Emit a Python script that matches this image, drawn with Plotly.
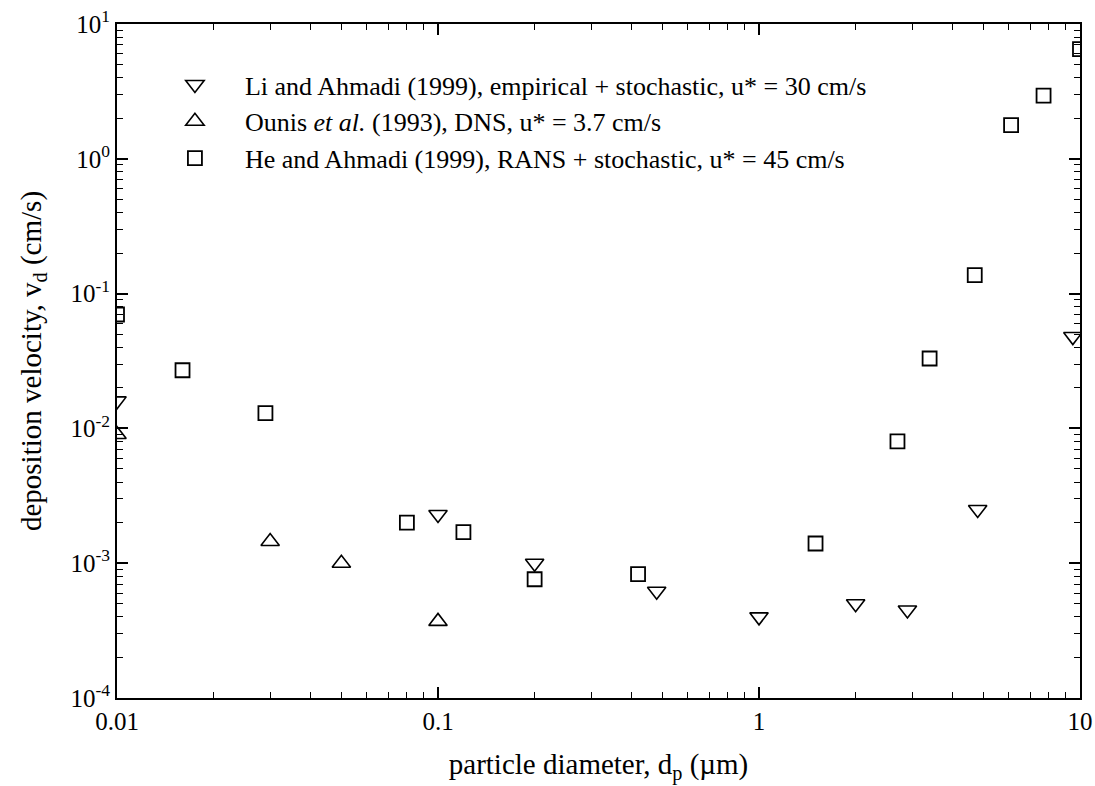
import plotly.graph_objects as go

# Li and Ahmadi (1999)
li_x = [0.01, 0.1, 0.2, 0.48, 1.0, 2.0, 2.9, 4.8, 9.5]
li_y = [0.016, 0.0023, 0.001, 0.00062, 0.0004, 0.0005, 0.00045, 0.0025, 0.048]
# Ounis et al. (1993)
ou_x = [0.01, 0.03, 0.05, 0.1]
ou_y = [0.009, 0.00145, 0.001, 0.00037]
# He and Ahmadi (1999)
he_x = [0.01, 0.016, 0.029, 0.08, 0.12, 0.2, 0.42, 1.5, 2.7, 3.4, 4.7, 6.1, 7.7, 10]
he_y = [0.07, 0.027, 0.013, 0.002, 0.0017, 0.00076, 0.00083, 0.0014, 0.008, 0.033, 0.137, 1.78, 2.94, 6.5]

x_tickvals = [0.01, 0.1, 1, 10]
x_ticktext = ["0.01", "0.1", "1", "10"]
y_tickvals = [1e-4, 1e-3, 1e-2, 1e-1, 1, 10]
y_ticktext = ["10<sup>-4</sup>", "10<sup>-3</sup>", "10<sup>-2</sup>", "10<sup>-1</sup>", "10<sup>0</sup>", "10<sup>1</sup>"]

x_minor = [m * d for d in [0.01, 0.1, 1] for m in range(2, 10)]
y_minor = [m * d for d in [1e-4, 1e-3, 1e-2, 1e-1, 1] for m in range(2, 10)]

FONT = "Liberation Serif, Times New Roman, serif"

fig = go.Figure()
fig.add_trace(go.Scatter(
    x=li_x, y=li_y, mode="markers",
    name="Li and Ahmadi (1999), empirical + stochastic, u* = 30 cm/s",
    marker=dict(symbol="triangle-down-open", size=16, color="black", line=dict(width=1.6, color="black")),
))
fig.add_trace(go.Scatter(
    x=ou_x, y=ou_y, mode="markers",
    name="Ounis <i>et al.</i> (1993), DNS, u* = 3.7 cm/s",
    marker=dict(symbol="triangle-up-open", size=16, color="black", line=dict(width=1.6, color="black")),
))
fig.add_trace(go.Scatter(
    x=he_x, y=he_y, mode="markers",
    name="He and Ahmadi (1999), RANS + stochastic, u* = 45 cm/s",
    marker=dict(symbol="square-open", size=14, color="black", line=dict(width=1.8, color="black")),
))


def axis_common(minor_vals):
    return dict(
        type="log", showgrid=False, zeroline=False, automargin=False,
        showline=True, linecolor="black", linewidth=2, mirror="allticks",
        ticks="inside", ticklen=11, tickwidth=1.5, tickcolor="black",
        tickfont=dict(family=FONT, size=25, color="black"),
        minor=dict(tickmode="array", tickvals=minor_vals, ticks="inside", ticklen=6,
                   tickwidth=1.2, tickcolor="black", showgrid=False),
    )


fig.update_layout(
    width=1095, height=786,
    paper_bgcolor="white", plot_bgcolor="white",
    margin=dict(l=117, r=15, t=24, b=88),
    font=dict(family=FONT, color="black"),
    xaxis=dict(
        axis_common(x_minor), range=[-2, 1],
        tickvals=x_tickvals, ticktext=x_ticktext,
        title=dict(text="particle diameter, d<sub>p</sub> (\u00b5m)", font=dict(family=FONT, size=29), standoff=20),
    ),
    yaxis=dict(
        axis_common(y_minor), range=[-4, 1],
        tickvals=y_tickvals, ticktext=y_ticktext,
        title=dict(text="deposition velocity, v<sub>d</sub> (cm/s)", font=dict(family=FONT, size=29), standoff=20),
    ),
    legend=dict(
        x=0.029, y=0.945, xanchor="left", yanchor="top",
        bgcolor="rgba(0,0,0,0)", borderwidth=0,
        font=dict(family=FONT, size=26, color="black"),
        itemwidth=90, tracegroupgap=0,
    ),
    showlegend=True,
)

fig.write_html("out.html")
